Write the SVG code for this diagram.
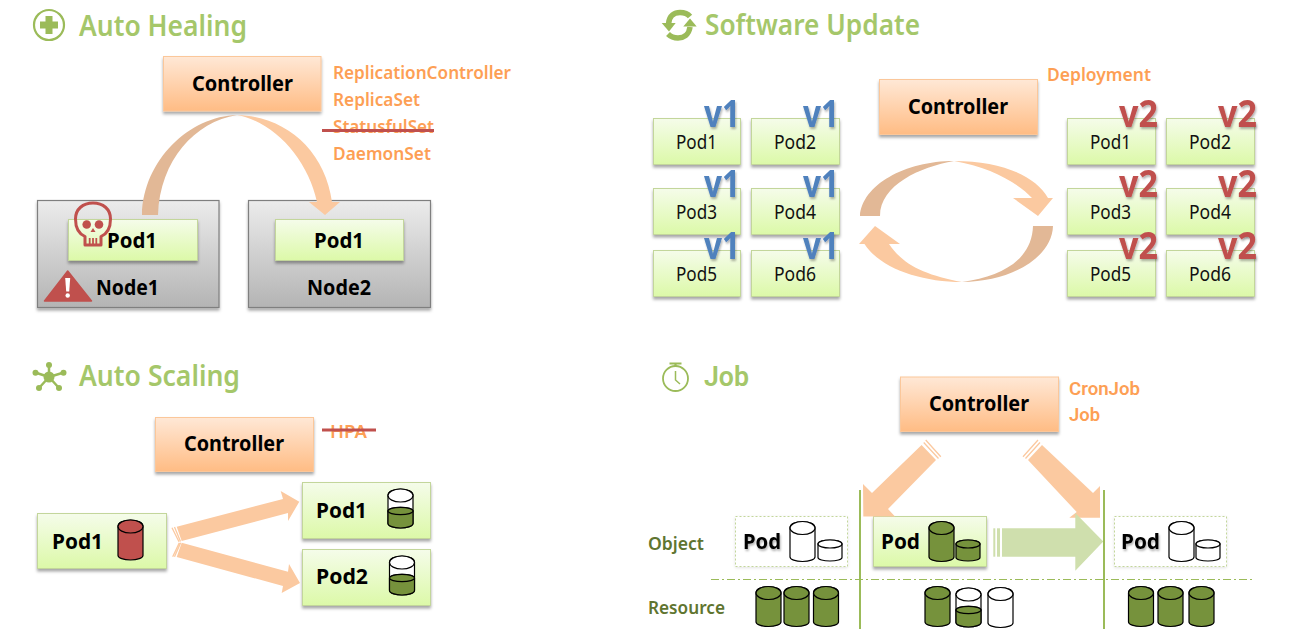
<svg xmlns="http://www.w3.org/2000/svg" xmlns:xlink="http://www.w3.org/1999/xlink" width="1299" height="644" viewBox="0 0 1299 644">
<style>
text{font-family:"Noto Sans","Open Sans","Liberation Sans",sans-serif}
.title{font-size:28px;font-weight:600;fill:#a5c76a}
.ctltx{font-size:22px;font-weight:700;fill:#000}
.podb{font-size:22px;font-weight:700;fill:#000}
.podr{font-size:20px;font-weight:400;fill:#111}
.kind{font-size:18px;font-weight:600;fill:#fd9f55}
.jf{font-family:"Roboto","Noto Sans",sans-serif}
.ver{font-size:38px;font-weight:700;filter:url(#ts)}
.v1{fill:#4f81bd}.v2{fill:#c0504d}
.lab{font-size:18px;font-weight:600;fill:#5f7530}
.pod{fill:url(#gPod);stroke:#c3d69b;stroke-width:1;filter:url(#sh)}
.ctl{fill:url(#gCtl);stroke:#fbc79a;stroke-width:1;filter:url(#sh)}
.node{fill:url(#gNode);stroke:#7f7f7f;stroke-width:1.2;filter:url(#sh)}
.empty{fill:#fff;stroke:#c3d69b;stroke-width:1;stroke-dasharray:2 2;filter:url(#shl)}
.cy{stroke:#000;stroke-width:1.2}
.g{fill:#76923c}.w{fill:#fff}.r{fill:#c0504d}
.strike{stroke:#c0504d;stroke-width:3;fill:none}
.a1{fill:#fbc9a0}.a2{fill:#e2b896}.a3{fill:#cfdfad}
.st1{stroke:#fbc9a0;stroke-width:1.3;fill:none}.st3{stroke:#cfdfad;fill:none}
.icon{fill:#9bbb59;stroke:none}.iconl{fill:none;stroke:#9bbb59}
.sep{stroke:#9bbb59;stroke-width:2;fill:none}
</style>
<defs>
<linearGradient id="gPod" x1="0" y1="0" x2="0" y2="1"><stop offset="0" stop-color="#f5fcea"/><stop offset="1" stop-color="#dcf9a8"/></linearGradient>
<linearGradient id="gCtl" x1="0" y1="0" x2="0" y2="1"><stop offset="0" stop-color="#ffe8d6"/><stop offset="1" stop-color="#ffbc84"/></linearGradient>
<linearGradient id="gNode" x1="0" y1="0" x2="0" y2="1"><stop offset="0" stop-color="#ececec"/><stop offset="1" stop-color="#b4b4b4"/></linearGradient>
<filter id="sh" x="-10%" y="-10%" width="120%" height="130%"><feDropShadow dx="0" dy="2.5" stdDeviation="1.5" flood-color="#000" flood-opacity=".35"/></filter>
<filter id="shl" x="-10%" y="-10%" width="120%" height="130%"><feDropShadow dx="0" dy="1" stdDeviation="1.5" flood-color="#000" flood-opacity=".12"/></filter>
<filter id="ts" x="-10%" y="-10%" width="130%" height="130%"><feDropShadow dx="1" dy="2" stdDeviation="1" flood-color="#000" flood-opacity=".3"/></filter>
<g id="cyl" class="cy"><path d="M0 6.500V35.500A12.500 4.500 0 0 0 25 35.500V6.500A12.500 6.500 0 0 0 0 6.500Z"/><ellipse cx="12.500" cy="6.500" rx="12.500" ry="6.500"/></g>
<g id="cylh" class="cy"><path class="w" d="M0 6.500V34.500A12.500 4.500 0 0 0 25 34.500V6.500A12.500 6.500 0 0 0 0 6.500Z"/><ellipse class="w" cx="12.500" cy="6.500" rx="12.500" ry="6.500"/><path class="g" d="M0 22V34.500A12.500 4.500 0 0 0 25 34.500V22A12.500 3.700 0 0 0 0 22Z"/><ellipse class="g" cx="12.500" cy="22" rx="12.500" ry="3.700"/></g>
<g id="cyls" class="cy"><path d="M0 4V17.500A12 3.500 0 0 0 24 17.500V4A12 4 0 0 0 0 4Z"/><ellipse cx="12" cy="4" rx="12" ry="4"/></g>
</defs>
<rect width="1299" height="644" fill="#fff"/>

<g id="title-auto-healing">
<circle class="iconl" stroke-width="2.2" cx="49" cy="25" r="15"/>
<path class="icon" d="M45.500 16h7v5.500h5.500v7h-5.500v5.500h-7v-5.500h-5.500v-7h5.500z"/>
<text class="title" x="79" y="36" textLength="168" lengthAdjust="spacingAndGlyphs">Auto Healing</text>
</g>
<g id="ah-controller"><rect class="ctl" x="163.500" y="56.500" width="157.500" height="54.500"/><text class="ctltx" x="192" y="91" textLength="101" lengthAdjust="spacingAndGlyphs">Controller</text></g>
<g id="ah-kinds">
<text class="kind" x="333" y="79" textLength="178" lengthAdjust="spacingAndGlyphs">ReplicationController</text>
<text class="kind" x="333" y="106" textLength="87" lengthAdjust="spacingAndGlyphs">ReplicaSet</text>
<text class="kind" x="333" y="133" textLength="101" lengthAdjust="spacingAndGlyphs">StatusfulSet</text>
<text class="kind" x="333" y="160" textLength="98" lengthAdjust="spacingAndGlyphs">DaemonSet</text>
<path class="strike" d="M322 130.500H434"/>
</g>
<g id="ah-node1"><rect class="node" x="37.500" y="200.500" width="181.500" height="107"/><text class="podb" x="96" y="295" textLength="63" lengthAdjust="spacingAndGlyphs">Node1</text>
<path d="M67.700 271 L91.500 301 H44.500 Z" fill="#c0504d" stroke="#c0504d" stroke-width="1.500" stroke-linejoin="round"/>
<path d="M65.200 278h5l-1 13.500h-3z" fill="#fff"/><circle cx="67.700" cy="295.500" r="2.200" fill="#fff"/></g>
<g id="ah-node1-pod"><rect class="pod" x="68.500" y="219.500" width="129" height="41"/><text class="podb" x="107" y="248" textLength="50" lengthAdjust="spacingAndGlyphs">Pod1</text>
<path d="M85 245 L85 236.500 C77 233 75.500 226 75.500 219 C75.500 209 83 203 93 203 C103 203 110.500 209 110.500 219 C110.500 226 109 233 101 236.500 L101 245 Z" fill="none" stroke="#c0504d" stroke-width="3" stroke-linejoin="round"/>
<circle cx="86.700" cy="224.500" r="4.300" fill="#c0504d"/><circle cx="99" cy="224.500" r="4.300" fill="#c0504d"/>
<path d="M93 228L95.500 232H90.500Z" fill="#c0504d"/>
<path d="M89.700 238v6M93 238v6M96.300 238v6" stroke="#c0504d" stroke-width="1.800" fill="none"/>
</g>
<g id="ah-node2"><rect class="node" x="248.500" y="200.500" width="182" height="107"/><text class="podb" x="307" y="295" textLength="64" lengthAdjust="spacingAndGlyphs">Node2</text></g>
<g id="ah-node2-pod"><rect class="pod" x="275.500" y="219.500" width="128" height="41"/><text class="podb" x="314" y="248" textLength="50" lengthAdjust="spacingAndGlyphs">Pod1</text></g>

<g id="title-software-update">
<path class="iconl" stroke-width="5.500" d="M668.500 24C669 15 675 12.500 680 12.500C685 12.500 688 14 690 16.500"/>
<path class="icon" d="M661.700 23H675.700L669 31.500Z"/>
<path class="iconl" stroke-width="5.500" d="M690 27C689 35 683 38 678 38C673 38 671 37 668 34"/>
<path class="icon" d="M683.300 26.500H696.700L690 18.500Z"/>
<text class="title" x="705" y="35" textLength="215" lengthAdjust="spacingAndGlyphs">Software Update</text>
</g>
<g id="su-controller"><rect class="ctl" x="879.500" y="79.500" width="158" height="55"/><text class="ctltx" x="908" y="114" textLength="100" lengthAdjust="spacingAndGlyphs">Controller</text></g>
<text id="su-kind" class="kind" x="1047" y="81" textLength="104" lengthAdjust="spacingAndGlyphs">Deployment</text>
<g id="su-l-pod1"><rect class="pod" x="653.500" y="118.500" width="87" height="46"/><text class="podr" x="676" y="149" textLength="41" lengthAdjust="spacingAndGlyphs">Pod1</text><text class="ver v1" x="704" y="127" textLength="36" lengthAdjust="spacingAndGlyphs">v1</text></g>
<g id="su-l-pod2"><rect class="pod" x="751.500" y="118.500" width="88" height="46"/><text class="podr" x="774" y="149" textLength="42" lengthAdjust="spacingAndGlyphs">Pod2</text><text class="ver v1" x="803" y="127" textLength="36" lengthAdjust="spacingAndGlyphs">v1</text></g>
<g id="su-l-pod3"><rect class="pod" x="653.500" y="188.500" width="87" height="46"/><text class="podr" x="676" y="219" textLength="41" lengthAdjust="spacingAndGlyphs">Pod3</text><text class="ver v1" x="704" y="197" textLength="36" lengthAdjust="spacingAndGlyphs">v1</text></g>
<g id="su-l-pod4"><rect class="pod" x="751.500" y="188.500" width="88" height="46"/><text class="podr" x="774" y="219" textLength="42" lengthAdjust="spacingAndGlyphs">Pod4</text><text class="ver v1" x="803" y="197" textLength="36" lengthAdjust="spacingAndGlyphs">v1</text></g>
<g id="su-l-pod5"><rect class="pod" x="653.500" y="250.500" width="87" height="46"/><text class="podr" x="676" y="281" textLength="41" lengthAdjust="spacingAndGlyphs">Pod5</text><text class="ver v1" x="704" y="259" textLength="36" lengthAdjust="spacingAndGlyphs">v1</text></g>
<g id="su-l-pod6"><rect class="pod" x="751.500" y="250.500" width="88" height="46"/><text class="podr" x="774" y="281" textLength="42" lengthAdjust="spacingAndGlyphs">Pod6</text><text class="ver v1" x="803" y="259" textLength="36" lengthAdjust="spacingAndGlyphs">v1</text></g>
<g id="su-r-pod1"><rect class="pod" x="1067.500" y="118.500" width="88" height="46"/><text class="podr" x="1090" y="149" textLength="41" lengthAdjust="spacingAndGlyphs">Pod1</text><text class="ver v2" x="1119" y="127" textLength="39" lengthAdjust="spacingAndGlyphs">v2</text></g>
<g id="su-r-pod2"><rect class="pod" x="1166.500" y="118.500" width="88" height="46"/><text class="podr" x="1189" y="149" textLength="42" lengthAdjust="spacingAndGlyphs">Pod2</text><text class="ver v2" x="1218" y="127" textLength="39" lengthAdjust="spacingAndGlyphs">v2</text></g>
<g id="su-r-pod3"><rect class="pod" x="1067.500" y="188.500" width="88" height="46"/><text class="podr" x="1090" y="219" textLength="41" lengthAdjust="spacingAndGlyphs">Pod3</text><text class="ver v2" x="1119" y="197" textLength="39" lengthAdjust="spacingAndGlyphs">v2</text></g>
<g id="su-r-pod4"><rect class="pod" x="1166.500" y="188.500" width="88" height="46"/><text class="podr" x="1189" y="219" textLength="42" lengthAdjust="spacingAndGlyphs">Pod4</text><text class="ver v2" x="1218" y="197" textLength="39" lengthAdjust="spacingAndGlyphs">v2</text></g>
<g id="su-r-pod5"><rect class="pod" x="1067.500" y="250.500" width="88" height="46"/><text class="podr" x="1090" y="281" textLength="41" lengthAdjust="spacingAndGlyphs">Pod5</text><text class="ver v2" x="1119" y="259" textLength="39" lengthAdjust="spacingAndGlyphs">v2</text></g>
<g id="su-r-pod6"><rect class="pod" x="1166.500" y="250.500" width="88" height="46"/><text class="podr" x="1189" y="281" textLength="42" lengthAdjust="spacingAndGlyphs">Pod6</text><text class="ver v2" x="1218" y="259" textLength="39" lengthAdjust="spacingAndGlyphs">v2</text></g>

<g id="title-auto-scaling">
<path class="iconl" stroke-width="2.500" d="M49 377L49 365M49 377L63 372.700M49 377L59 388M49 377L39 388M49 377L36 372.700"/>
<circle class="icon" cx="49" cy="377" r="5.500"/><circle class="icon" cx="49" cy="365" r="3"/><circle class="icon" cx="63.500" cy="372.700" r="3"/><circle class="icon" cx="59" cy="388" r="3"/><circle class="icon" cx="39" cy="388" r="3"/><circle class="icon" cx="35.500" cy="372.700" r="3"/>
<text class="title" x="79" y="386" textLength="161" lengthAdjust="spacingAndGlyphs">Auto Scaling</text>
</g>
<g id="as-controller"><rect class="ctl" x="155.500" y="417.500" width="158" height="54"/><text class="ctltx" x="184" y="451" textLength="100" lengthAdjust="spacingAndGlyphs">Controller</text></g>
<g id="as-kind"><text class="kind" x="330" y="438" textLength="37" lengthAdjust="spacingAndGlyphs">HPA</text><path class="strike" d="M322 430H376"/></g>
<g id="as-pod"><rect class="pod" x="37.500" y="513.500" width="129" height="55"/><text class="podb" x="52" y="549" textLength="51" lengthAdjust="spacingAndGlyphs">Pod1</text><use href="#cyl" class="r" x="118" y="520"/></g>
<g id="as-pod1"><rect class="pod" x="302.500" y="482.500" width="128" height="56"/><text class="podb" x="316" y="518" textLength="51" lengthAdjust="spacingAndGlyphs">Pod1</text><use href="#cylh" x="388" y="489"/></g>
<g id="as-pod2"><rect class="pod" x="302.500" y="549.500" width="128" height="56"/><text class="podb" x="316" y="584" textLength="52" lengthAdjust="spacingAndGlyphs">Pod2</text><use href="#cylh" x="389.500" y="556"/></g>

<g id="title-job">
<circle class="iconl" stroke-width="1.800" cx="675.500" cy="378.500" r="12.500"/>
<path class="iconl" stroke-width="2.200" d="M669.500 363.500H681.500M675.500 363.500V366"/>
<path class="iconl" stroke-width="1.500" d="M675.500 371V380L680 384"/>
<text class="title jf" x="704" y="386" textLength="45" lengthAdjust="spacingAndGlyphs">Job</text>
</g>
<g id="job-controller"><rect class="ctl" x="900.500" y="377" width="158" height="54.500"/><text class="ctltx" x="929" y="411" textLength="100" lengthAdjust="spacingAndGlyphs">Controller</text></g>
<g id="job-kinds"><text class="kind jf" x="1069" y="395" textLength="71" lengthAdjust="spacingAndGlyphs">CronJob</text><text class="kind jf" x="1069" y="421" textLength="31" lengthAdjust="spacingAndGlyphs">Job</text></g>
<text id="job-lab-object" class="lab" x="648" y="550" textLength="56" lengthAdjust="spacingAndGlyphs">Object</text>
<text id="job-lab-resource" class="lab" x="648" y="614" textLength="77" lengthAdjust="spacingAndGlyphs">Resource</text>
<g id="job-pod-a"><rect class="empty" x="735.500" y="516.500" width="112" height="50"/><text class="podb" x="743" y="549" textLength="38" lengthAdjust="spacingAndGlyphs" style="filter:url(#ts)">Pod</text><use href="#cyl" class="w" x="790" y="521.500"/><use href="#cyls" class="w" x="818" y="540"/></g>
<g id="job-pod-b"><rect class="pod" x="873.500" y="516.500" width="113" height="50"/><text class="podb" x="881" y="549" textLength="39" lengthAdjust="spacingAndGlyphs">Pod</text><use href="#cyl" class="g" x="929" y="521.500"/><use href="#cyls" class="g" x="956" y="540"/></g>
<g id="job-pod-c"><rect class="empty" x="1114.500" y="516.500" width="112" height="50"/><text class="podb" x="1121" y="549" textLength="39" lengthAdjust="spacingAndGlyphs" style="filter:url(#ts)">Pod</text><use href="#cyl" class="w" x="1169" y="521.500"/><use href="#cyls" class="w" x="1196" y="540"/></g>
<g id="job-res-a"><use href="#cyl" class="g" x="756" y="586.500"/><use href="#cyl" class="g" x="784" y="586.500"/><use href="#cyl" class="g" x="813.500" y="586.500"/></g>
<g id="job-res-b"><use href="#cyl" class="g" x="925" y="586.500"/><use href="#cylh" x="956" y="588"/><use href="#cyl" class="w" x="988" y="587.500"/></g>
<g id="job-res-c"><use href="#cyl" class="g" x="1128.500" y="586.500"/><use href="#cyl" class="g" x="1158" y="586.500"/><use href="#cyl" class="g" x="1189" y="586.500"/></g>

<g id="connectors">
<path class="a2" d="M142 215C143 160 190 116 237 115C195 122 160 160 158 215Z"/>
<path class="a1" d="M237 115C285 116 325 150 332 202L340 202L325 215L309 202L317 202C308 160 275 122 237 115Z"/>
<path class="a2" d="M860 216C862 185 905 161 954 161C920 167 880 185 880 216Z"/>
<path class="a1" d="M954 161C1000 161 1035 175 1048 198L1053 198L1038 216L1013 198L1032 198C1018 183 990 167 954 161Z"/>
<path class="a2" d="M1053 226C1052 258 1010 282 962 282C1005 276 1032 258 1033 226Z"/>
<path class="a1" d="M962 282C920 282 880 268 864.500 244L859 244L875 226L900 244L889 244C903 265 925 275 962 282Z"/>
<path class="a1" d="M176.700 526.700L283 499L280.700 491L299.300 501.700L288 521L288 513L181.700 541Z"/>
<path class="st1" d="M172 527.700L179 541.700M174.500 527L180.500 541.500"/>
<path class="a1" d="M181.700 542.700L288 571.700L289 564L300 583L281.700 593L283 586L176.700 557Z"/>
<path class="st1" d="M179.300 542.700L172.700 556.700M180.700 542.700L174.500 556.700"/>
<path class="a1" d="M921.600 445L936 460L888 509L895 516.500L863.300 516.500L863 484L872 493Z"/>
<path class="st1" d="M925.700 440L940.800 456.700M923.700 442.500L938.500 458.500"/>
<path class="a1" d="M1042 445L1093 493L1100 486L1100 517.700L1069.300 517.700L1076.700 512L1028 460Z"/>
<path class="st1" d="M1038 440L1023 456.700M1040 442.500L1025.500 458.500"/>
<path class="a3" d="M1002 528.300H1075.300V513L1103.300 541.500L1075.300 570.700V556.700H1002Z"/>
<path class="st3" stroke-width="2" d="M994.300 528.300V556.700"/><path class="st3" stroke-width="3" d="M998.500 528.300V556.700"/>
</g>
<g id="job-separators">
<path class="sep" d="M860 490V629M1104 490V629"/>
<path d="M711 579.500H1254" fill="none" stroke="#9bbb59" stroke-width="1.200" stroke-dasharray="8 3 2 3"/>
</g>
</svg>
